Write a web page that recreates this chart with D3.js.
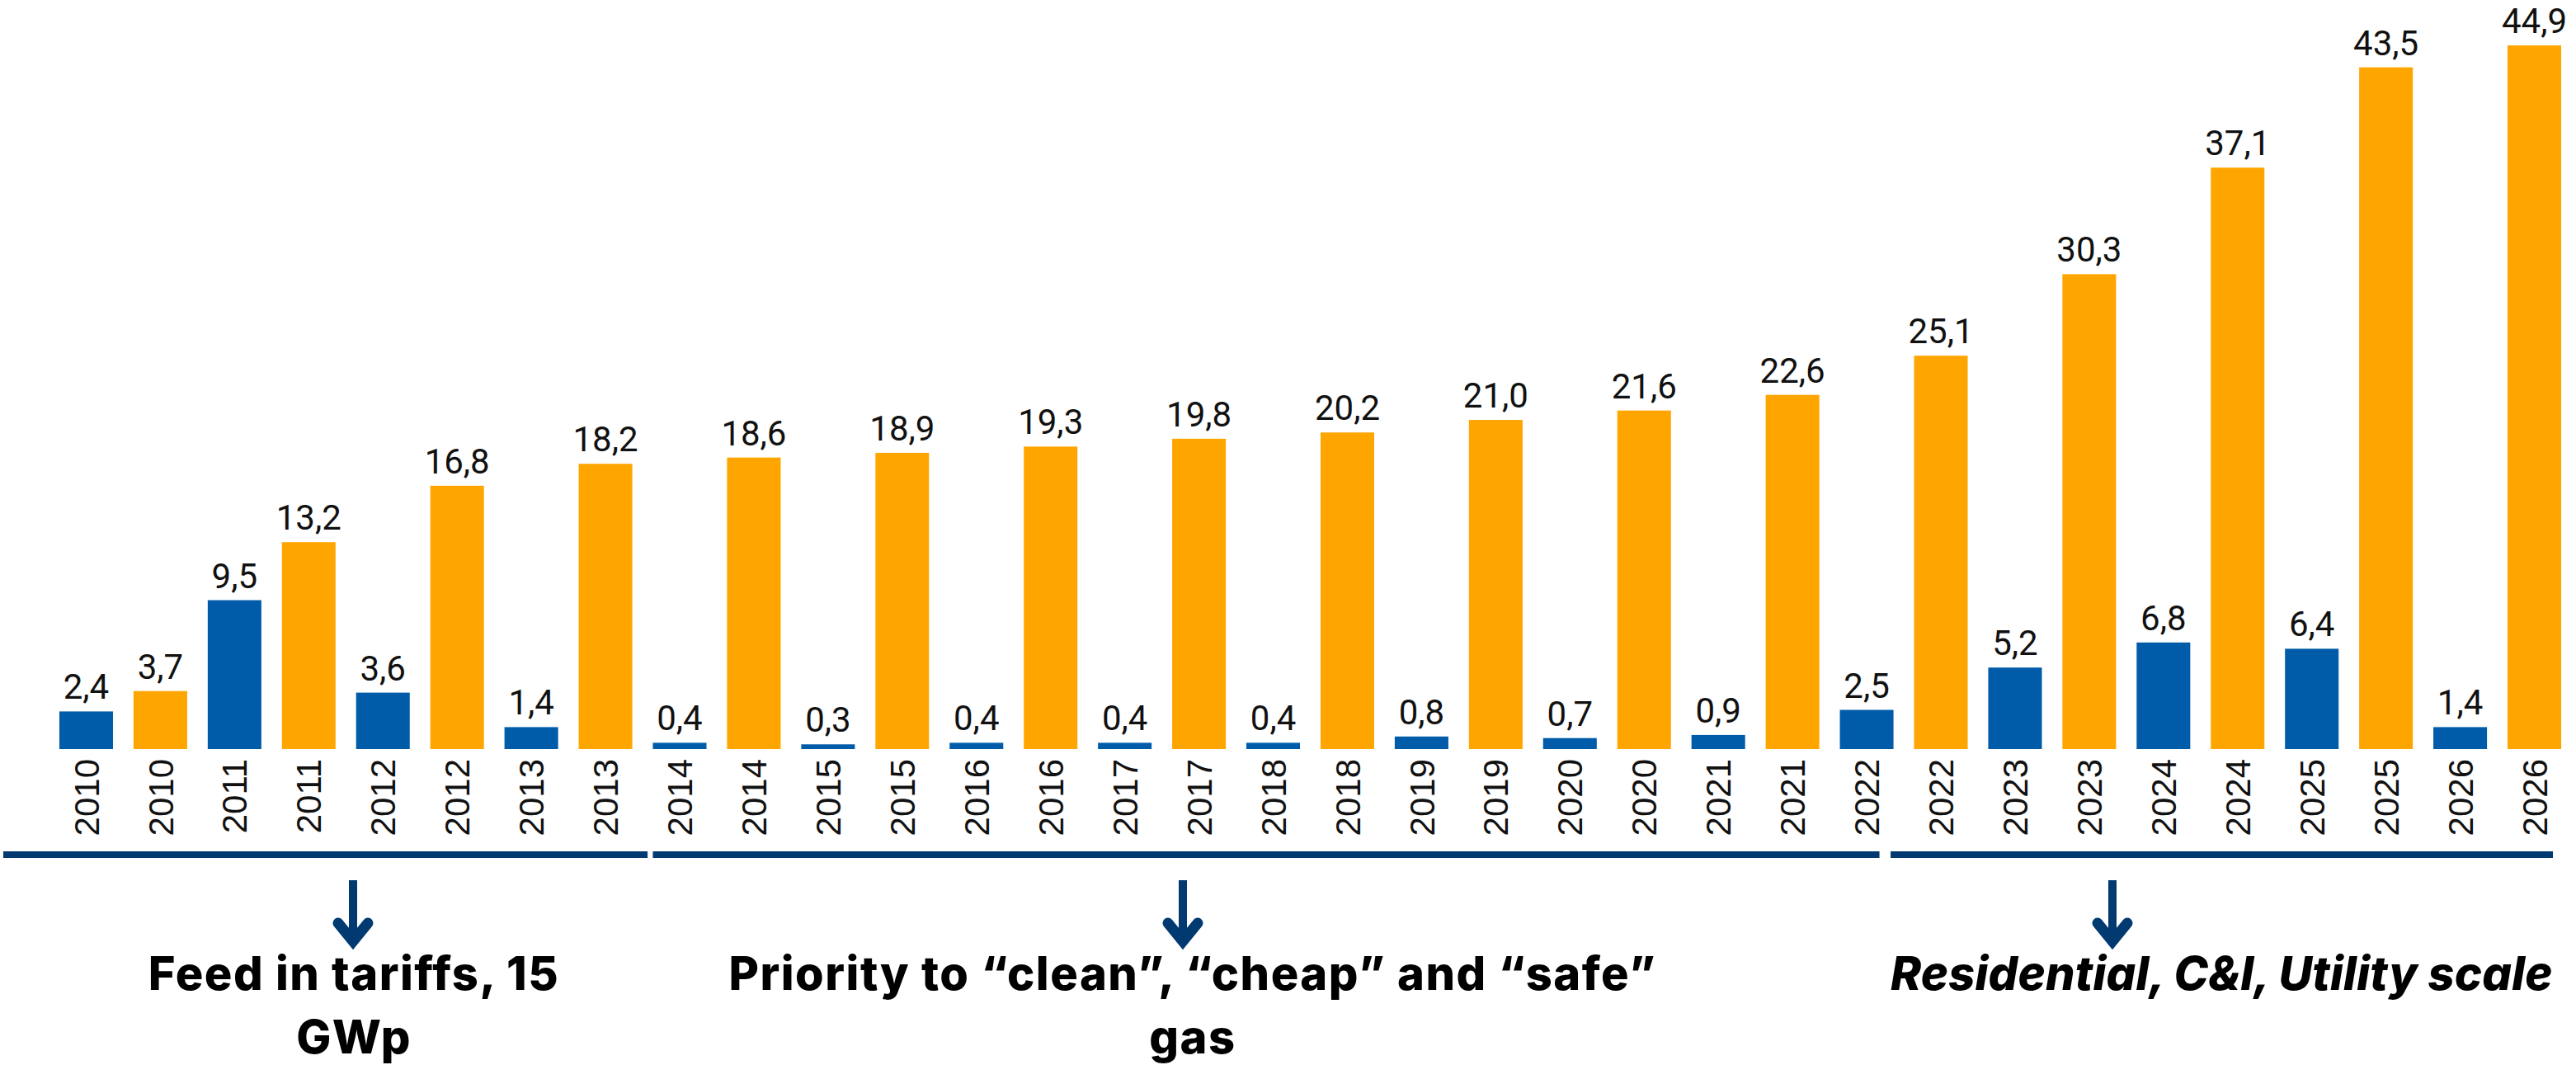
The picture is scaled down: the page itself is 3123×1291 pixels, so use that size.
<!DOCTYPE html>
<html>
<head>
<meta charset="utf-8">
<script src="https://cdn.jsdelivr.net/npm/d3@7"></script>
<style>
    html, body { margin: 0; padding: 0; background: #fff; }
    svg { display: block; }
</style>
</head>
<body>
<div id="chart"></div>
<script>
const years = [2010, 2011, 2012, 2013, 2014, 2015, 2016, 2017, 2018,
    2019, 2020, 2021, 2022, 2023, 2024, 2025, 2026];
const blueValues = [2.4, 9.5, 3.6, 1.4, 0.4, 0.3, 0.4, 0.4, 0.4,
    0.8, 0.7, 0.9, 2.5, 5.2, 6.8, 6.4, 1.4];
const orangeValues = [3.7, 13.2, 16.8, 18.2, 18.6, 18.9, 19.3, 19.8, 20.2,
    21.0, 21.6, 22.6, 25.1, 30.3, 37.1, 43.5, 44.9];

// periods: first and last bar index covered by each bracket line
const periodStart = [0, 8, 25];
const periodEnd = [7, 24, 33];
const periodLabels = [
    ['Feed in tariffs, 15', 'GWp'],
    ['Priority to \u201cclean\u201d, \u201ccheap\u201d and \u201csafe\u201d', 'gas'],
    ['Residential, C&I, Utility scale']
];

const W = 3123,
    H = 1291,
    baseline = 908,
    colors = { blue: '#005ca9', orange: '#ffa500', navy: '#003a70' };

// interleave into one bar per band: blue then orange for each year
const bars = [];
years.forEach(function(y, i) {
    bars.push({ key: y + '-b', year: y, value: blueValues[i], color: colors.blue });
    bars.push({ key: y + '-o', year: y, value: orangeValues[i], color: colors.orange });
});

const svg = d3.select('#chart')
    .append('svg')
        .attr('width', W)
        .attr('height', H);

const x = d3.scaleBand()
    .domain(bars.map(function(d) { return d.key; }))
    .range([59.5, 3117.5])
    .paddingInner(0.277)
    .paddingOuter(0.1385);

const y = d3.scaleLinear()
    .domain([0, 44.9])
    .range([baseline, 55]);

// bars
svg.append('g')
    .selectAll('rect')
    .data(bars)
    .enter()
    .append('rect')
        .attr('x', function(d) { return x(d.key); })
        .attr('y', function(d) { return y(d.value); })
        .attr('width', x.bandwidth())
        .attr('height', function(d) { return baseline - y(d.value); })
        .attr('fill', function(d) { return d.color; });

// value labels
svg.append('g')
    .selectAll('text')
    .data(bars)
    .enter()
    .append('text')
        .attr('x', function(d) { return x(d.key) + x.bandwidth() / 2; })
        .attr('y', function(d) { return y(d.value) - 15; })
        .attr('text-anchor', 'middle')
        .attr('font-family', 'Roboto, sans-serif')
        .attr('font-size', 42)
        .attr('fill', '#111')
        .text(function(d) { return d.value.toFixed(1).replace('.', ','); });

// year axis (rotated labels, no ticks)
const xAxis = d3.axisBottom(x)
    .tickSize(0)
    .tickPadding(0)
    .tickFormat(function(k) { return k.slice(0, 4); });

svg.append('g')
    .attr('transform', `translate(0, ${baseline + 12})`)
    .call(xAxis)
    .call(g => g.select('.domain').remove())
    .call(g => g.selectAll('text')
        .attr('transform', 'rotate(-90)')
        .attr('x', 0)
        .attr('y', 0)
        .attr('dy', '0.36em')
        .attr('text-anchor', 'end')
        .attr('font-family', '"Liberation Sans", Arial, sans-serif')
        .attr('font-size', 42)
        .attr('fill', '#111'));

// period brackets
const bw = x.bandwidth();
const segX1 = [x(bars[0].key) - 68, x(bars[8].key), x(bars[24].key) + 61.5];
const segX2 = [x(bars[7].key) + bw + 18.5, x(bars[24].key) + 48, x(bars[33].key) + bw - 10];

svg.append('g')
    .selectAll('rect')
    .data(periodStart)
    .enter()
    .append('rect')
        .attr('x', function(d, i) { return segX1[i]; })
        .attr('y', 1032)
        .attr('width', function(d, i) { return segX2[i] - segX1[i]; })
        .attr('height', 8)
        .attr('fill', colors.navy);

// arrows
const arrowX = [428, 1434, 2561];
const arrows = svg.append('g')
    .attr('fill', 'none')
    .attr('stroke', colors.navy);

arrowX.forEach(function(ax) {
    arrows.append('line')
        .attr('x1', ax).attr('y1', 1067)
        .attr('x2', ax).attr('y2', 1140)
        .attr('stroke-width', 10);
    arrows.append('path')
        .attr('d', `M${ax - 18},${1119} L${ax},${1141} L${ax + 18},${1119}`)
        .attr('stroke-width', 13)
        .attr('stroke-linecap', 'round')
        .attr('stroke-linejoin', 'miter');
});

// period texts
const textX = [429, 1446, 2292];
const textAnchor = ['middle', 'middle', 'start'];
const textSpacing = [1.5, 1.5, 0.2];

periodLabels.forEach(function(lines, i) {
    const t = svg.append('text')
        .attr('x', textX[i])
        .attr('y', 1200)
        .attr('text-anchor', textAnchor[i])
        .attr('font-family', 'Inter, "Open Sans", sans-serif')
        .attr('font-weight', 800)
        .attr('font-size', 56)
        .attr('letter-spacing', textSpacing[i])
        .attr('font-style', i === 2 ? 'italic' : 'normal')
        .attr('fill', '#000');
    lines.forEach(function(line, j) {
        t.append('tspan')
            .attr('x', textX[i])
            .attr('y', 1200 + j * 77)
            .text(line);
    });
});
</script>
</body>
</html>
